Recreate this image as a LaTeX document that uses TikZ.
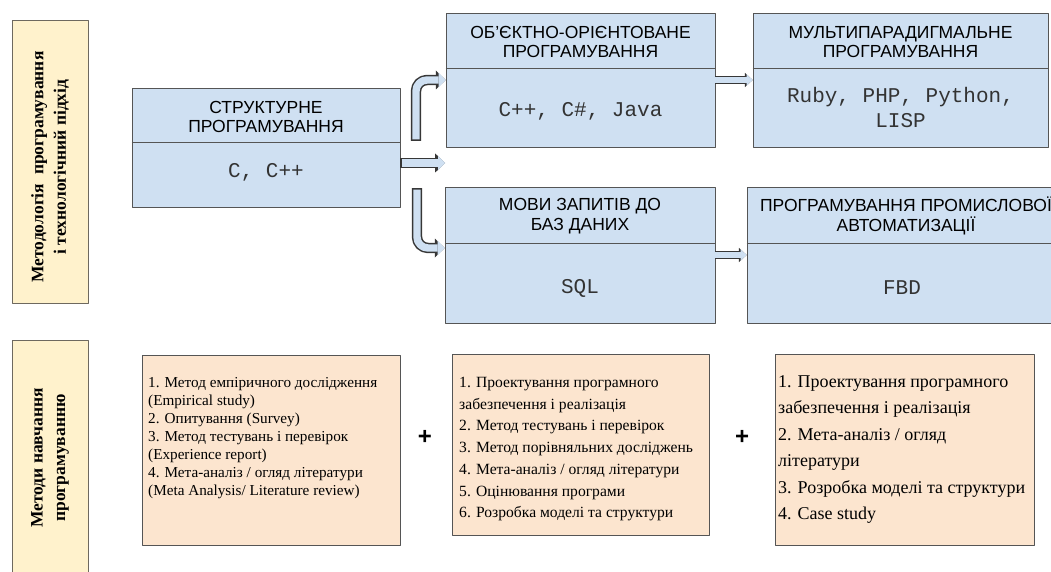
\documentclass[tikz,border=0pt]{standalone}
\usepackage{fontspec}
\setmainfont{Liberation Serif}
\newfontfamily\arialfont{Liberation Sans}
\newfontfamily\courfont{Liberation Mono}
\usetikzlibrary{arrows.meta}

\definecolor{langblue}{RGB}{207,224,242}
\definecolor{langline}{RGB}{85,85,85}
\definecolor{arrowline}{RGB}{55,55,55}
\definecolor{methodfill}{RGB}{252,229,207}
\definecolor{labelfill}{RGB}{255,242,204}
\definecolor{labelline}{RGB}{110,105,95}

\tikzset{
  langbox/.style={draw=langline,fill=langblue,line width=0.8pt,inner sep=0pt},
  methodbox/.style={draw=langline,fill=methodfill,line width=0.8pt,inner sep=0pt},
  sidebox/.style={draw=labelline,fill=labelfill,line width=0.8pt,inner sep=0pt,minimum width=76pt},
  headtext/.style={font=\arialfont\fontsize{17.5}{19.5}\selectfont,align=center,inner sep=0pt},
  codetext/.style={font=\courfont\fontsize{21}{25}\selectfont,text=black!80,align=center,inner sep=0pt},
  sidetext/.style={font=\bfseries\fontsize{17.5}{22.5}\selectfont,align=center,rotate=90,inner sep=0pt},
  plussign/.style={font=\arialfont\bfseries\fontsize{24}{24}\selectfont,inner sep=0pt},
  blockarrow/.style={draw=langblue,line width=7.4pt,shorten <=1.5pt,
    -{Triangle[length=7pt,width=14.6pt,line width=0pt]},
    preaction={draw=arrowline,line width=10.4pt,shorten <=0pt,
      -{Triangle[length=9.8pt,width=19pt,line width=0pt]}}},
  thinarrow/.style={draw=langblue,line width=5.6pt,
    -{Triangle[length=6pt,width=11.4pt,line width=0pt]},
    preaction={draw=arrowline,line width=7.6pt,
      -{Triangle[length=7.8pt,width=14.4pt,line width=0pt]}}},
}

\begin{document}
\begin{tikzpicture}[x=1pt,y=-1pt,line join=round]
\useasboundingbox (0,0) rectangle (1051,572);

% side labels
\node[sidebox,minimum height=283pt] (toplabel) at (50,161.5) {};
\node[sidetext] at (50,167) {Методологія~ програмування\\і технологічний підхід};
\node[sidebox,minimum height=236pt] (bottomlabel) at (50,458) {};
\node[sidetext] at (bottomlabel.center) {Методи навчання\\програмуванню};

% languages
\node[langbox,minimum width=268pt,minimum height=119pt] (struct) at (266,147.5) {};
\draw[langline,line width=0.8pt] (struct.west |- 0,142) -- (struct.east |- 0,142);
\node[headtext] at (266,117) {СТРУКТУРНЕ\\ПРОГРАМУВАННЯ};
\node[codetext] at (266,172) {C, C++};

\node[langbox,minimum width=269pt,minimum height=134pt] (oop) at (580.5,80) {};
\draw[langline,line width=0.8pt] (oop.west |- 0,68) -- (oop.east |- 0,68);
\node[headtext] at (580.5,42) {ОБ’ЄКТНО-ОРІЄНТОВАНЕ\\ПРОГРАМУВАННЯ};
\node[codetext] at (580.5,111) {C++, C\#, Java};

\node[langbox,minimum width=295pt,minimum height=134pt] (multi) at (900.5,80) {};
\draw[langline,line width=0.8pt] (multi.west |- 0,68) -- (multi.east |- 0,68);
\node[headtext] at (900.5,42) {МУЛЬТИПАРАДИГМАЛЬНЕ\\ПРОГРАМУВАННЯ};
\node[codetext] at (900.5,107) {Ruby, PHP, Python,\\LISP};

\node[langbox,minimum width=270pt,minimum height=136pt] (sql) at (580,255) {};
\draw[langline,line width=0.8pt] (sql.west |- 0,243) -- (sql.east |- 0,243);
\node[headtext] at (580,216) {МОВИ ЗАПИТІВ ДО\\БАЗ ДАНИХ};
\node[codetext] at (580,288) {SQL};

\node[langbox,minimum width=318pt,minimum height=136pt] (fbd) at (906,255) {};
\draw[langline,line width=0.8pt] (fbd.west |- 0,243) -- (fbd.east |- 0,243);
\node[headtext] at (906,216) {ПРОГРАМУВАННЯ ПРОМИСЛОВОЇ\\АВТОМАТИЗАЦІЇ};
\node[codetext] at (902,288) {FBD};

% block arrows
\coordinate (upstart) at (416,141);
\coordinate (midend) at (445,163);
\coordinate (downstart) at (417,188);
\draw[blockarrow,rounded corners=11pt] (upstart) |- (oop.west);
\draw[blockarrow] (struct.east |- midend) -- (midend);
\draw[blockarrow,rounded corners=11pt] (downstart) |- ([yshift=7pt]sql.west);
\draw[thinarrow] (oop.east) -- (multi.west);
\draw[thinarrow] (sql.east) -- (fbd.west);

% methods
\node[methodbox,minimum width=258pt,minimum height=190pt] (methodsa) at (271,450) {};
\node[anchor=north west,inner sep=0pt,align=left,font=\fontsize{15.2}{18}\selectfont] at (148,377)
  {1. Метод емпіричного дослідження\\(Empirical study)\\2. Опитування (Survey)\\3. Метод тестувань і перевірок\\(Experience report)\\4. Мета-аналіз / огляд літератури\\(Meta Analysis/ Literature review)};
\node[plussign] (plusab) at (425,437) {+};

\node[methodbox,minimum width=257pt,minimum height=181pt] (methodsb) at (580.5,444.5) {};
\node[anchor=north west,inner sep=0pt,align=left,font=\fontsize{15.6}{21.7}\selectfont] at (459,377)
  {1. Проектування програмного\\забезпечення і реалізація\\2. Метод тестувань і перевірок\\3. Метод порівняльних досліджень\\4. Мета-аналіз / огляд літератури\\5. Оцінювання програми\\6. Розробка моделі та структури};
\node[plussign] (plusbc) at (742,437) {+};

\node[methodbox,minimum width=259pt,minimum height=191pt] (methodsc) at (904.5,449.5) {};
\node[anchor=north west,inner sep=0pt,align=left,font=\fontsize{18}{26.5}\selectfont] at (778,375)
  {1. Проектування програмного\\забезпечення і реалізація\\2. Мета-аналіз / огляд\\літератури\\3. Розробка моделі та структури\\4. Case study};
\end{tikzpicture}
\end{document}
